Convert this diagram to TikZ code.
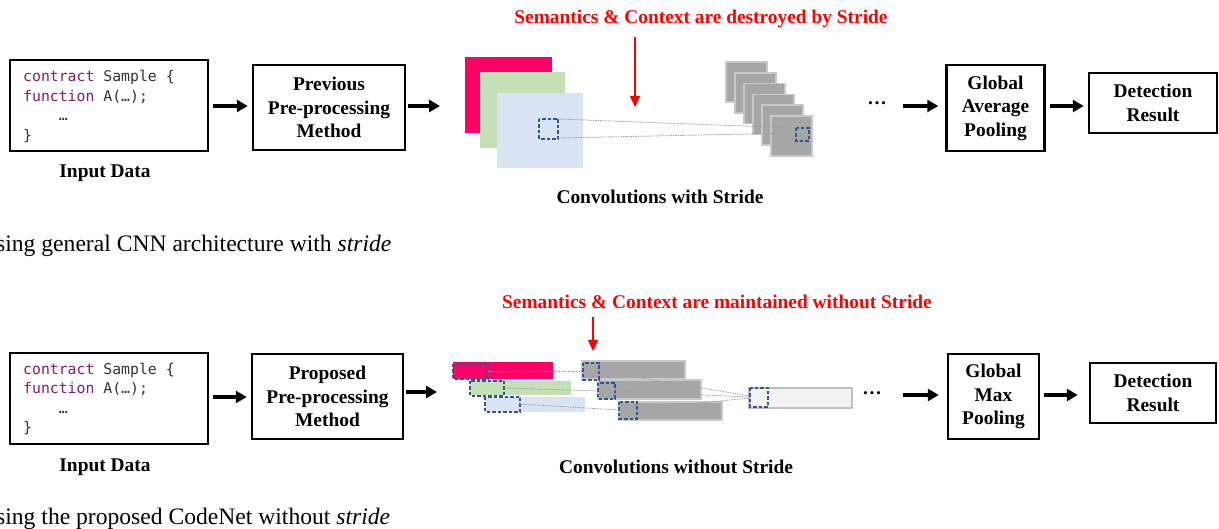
\documentclass[tikz,border=0pt]{standalone}
\usepackage{fontspec}
\setmainfont{Liberation Serif}
\newfontfamily\codefont{DejaVu Sans Mono}
\usetikzlibrary{arrows.meta,calc}
\definecolor{kw}{HTML}{8B1A5E}
\definecolor{codetxt}{HTML}{333333}
\definecolor{pinkmap}{HTML}{FF0066}
\definecolor{greenmap}{HTML}{C5E0B4}
\definecolor{bluemap}{HTML}{DAE3F3}
\definecolor{graymap}{HTML}{A6A6A6}
\definecolor{grayedge}{HTML}{C8C8C8}
\definecolor{lightmap}{HTML}{F2F2F2}
\definecolor{lightedge}{HTML}{BFBFBF}
\definecolor{dblue}{HTML}{2F5597}
\definecolor{redtxt}{HTML}{FF0000}
\definecolor{dotcol}{HTML}{A0A0A0}
\begin{document}
\begin{tikzpicture}[x=1pt,y=-1pt,
  codebox/.style={draw, line width=1.2pt, minimum width=198pt, minimum height=91pt, inner sep=0pt},
  codetext/.style={anchor=west, align=left, inner sep=0pt, text=codetxt, font=\codefont\fontsize{14.8}{19.5}\selectfont},
  proc/.style={draw, line width=2.5pt, align=center, inner sep=0pt, font=\bfseries\fontsize{19.4}{23.5}\selectfont},
  lbl/.style={inner sep=0pt, font=\bfseries\fontsize{19.4}{23}\selectfont},
  redlbl/.style={lbl, text=redtxt},
  captxt/.style={anchor=base west, inner sep=0pt, font=\fontsize{23.6}{28}\selectfont},
  arr/.style={line width=3.5pt, -{Triangle[length=11pt,width=12pt]}},
  redarr/.style={draw=redtxt, line width=1.2pt, -{Triangle[length=11pt,width=10pt]}, color=redtxt},
  graysq/.style={fill=graymap, draw=grayedge, line width=1.5pt},
  dsq/.style={draw=dblue, line width=1.6pt, dash pattern=on 3.5pt off 2pt},
  dotl/.style={draw=dotcol, line width=0.8pt, dash pattern=on 1.5pt off 1pt},
  dotsnode/.style={inner sep=0pt, font=\bfseries\fontsize{19.4}{23}\selectfont}
]
\useasboundingbox (0,0) rectangle (1219,529);

% ================= TOP ROW =================
\node[codebox] (c1) at (109,105.5) {};
\node[codetext] (c1t) at (23,106.5) {\textcolor{kw}{contract} Sample \{\\\textcolor{kw}{function} A(…);\\\phantom{func}…\\\}};
\node[lbl] (in1) at (105,173) {Input Data};

\node[proc, minimum width=152pt, minimum height=85pt] (prev) at (329,107.5) {Previous\\Pre-processing\\Method};

% feature maps
\fill[pinkmap] (465,57) rectangle (552,133);
\fill[greenmap] (480,72) rectangle (565,148);
\fill[bluemap] (497,93) rectangle (583,168);
\draw[dsq] (539,119) rectangle (558,139);

\foreach \i in {0,...,5} {
  \draw[graysq] ({726+9*\i},{62+10.8*\i}) rectangle ++(41,40);
}
\draw[dsq] (796,128) rectangle (809,141);
\draw[dotl] (558,119) -- (796,128);
\draw[dotl] (558,138) -- (796,133);

\node[redlbl] (t1) at (701,19) {Semantics \& Context are destroyed by Stride};
\coordinate (r1s) at (635,37);
\coordinate (r1e) at (635,107);
\draw[redarr] (r1s) -- (r1e);
\node[lbl] (cv1) at (660,197) {Convolutions with Stride};

\node[dotsnode] (d1) at (877,103) {…};
\node[proc, minimum width=98pt, minimum height=86pt] (gap) at (995.5,108) {Global\\Average\\Pooling};
\node[proc, minimum width=128pt, minimum height=60pt] (det1) at (1153,103) {Detection\\Result};

\coordinate (f1) at (440,106);
\coordinate (s13) at (903,106);
\draw[arr, shorten <=4pt, shorten >=4pt] (c1.east |- 0,106) -- (prev.west |- 0,106);
\draw[arr, shorten <=2pt] (prev.east |- f1) -- (f1);
\draw[arr, shorten >=7pt] (s13) -- (s13 -| gap.west);
\draw[arr, shorten <=4pt, shorten >=4pt] (gap.east |- 0,106) -- (det1.west |- 0,106);

\node[captxt] (cap1) at (-4,252) {sing general CNN architecture with \textit{stride}};

% ================= BOTTOM ROW =================
\node[codebox] (c2) at (109,398.5) {};
\node[codetext] (c2t) at (23,399) {\textcolor{kw}{contract} Sample \{\\\textcolor{kw}{function} A(…);\\\phantom{func}…\\\}};
\node[lbl] (in2) at (105,467) {Input Data};

\node[proc, minimum width=151pt, minimum height=85pt] (prop) at (327.5,396.5) {Proposed\\Pre-processing\\Method};

% 1D maps
\fill[pinkmap] (453,362) rectangle (553,379);
\fill[greenmap] (470,381) rectangle (571,395);
\fill[bluemap] (485,397) rectangle (585,412);
\draw[graysq] (582,361) rectangle (685,379);
\draw[graysq] (598,380) rectangle (701,399);
\draw[graysq] (619,402) rectangle (722,420);
\fill[lightmap] (749,388) rectangle (852,408);
\draw[lightedge, line width=1.5pt] (749,388) rectangle (852,408);

\draw[dsq] (453,364) rectangle (488,379);
\draw[dsq] (470,381) rectangle (504,396);
\draw[dsq] (485,397) rectangle (520,412);
\draw[dsq] (583,363) rectangle (599,380);
\draw[dsq] (598,383) rectangle (615,399);
\draw[dsq] (619,402) rectangle (637,419);
\draw[dsq] (750,388) rectangle (768,407);

\draw[dotl] (488,371) -- (583,371);
\draw[dotl] (504,388) -- (598,391);
\draw[dotl] (520,404) -- (619,410);
\draw[dotl] (599,371) -- (750,396);
\draw[dotl] (615,391) -- (750,397);
\draw[dotl] (637,409) -- (750,398);

\node[redlbl] (t2) at (717,302) {Semantics \& Context are maintained without Stride};
\coordinate (r2s) at (593,317);
\coordinate (r2e) at (593,351);
\draw[redarr] (r2s) -- (r2e);
\node[lbl] (cv2) at (676,467) {Convolutions without Stride};

\node[dotsnode] (d2) at (872,393) {…};
\node[proc, minimum width=91pt, minimum height=85pt] (gmp) at (993.5,396.5) {Global\\Max\\Pooling};
\node[proc, minimum width=126pt, minimum height=60pt] (det2) at (1153,393) {Detection\\Result};

\coordinate (f2) at (437,392);
\coordinate (s23) at (903,395);
\draw[arr, shorten <=4pt, shorten >=4pt] (c2.east |- 0,397) -- (prop.west |- 0,397);
\draw[arr, shorten <=2pt] (prop.east |- f2) -- (f2);
\draw[arr, shorten >=8pt] (s23) -- (s23 -| gmp.west);
\draw[arr, shorten <=4pt, shorten >=11pt] (gmp.east |- 0,395) -- (det2.west |- 0,395);

\node[captxt] (cap2) at (-4,524) {sing the proposed CodeNet without \textit{stride}};
\end{tikzpicture}
\end{document}
